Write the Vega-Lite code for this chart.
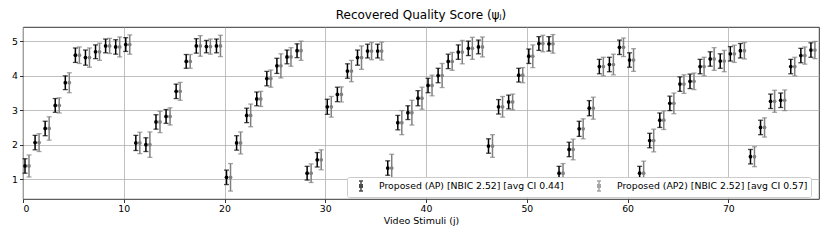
{
"$schema":"https://vega.github.io/schema/vega-lite/v6.json",
"width":796,"height":172,
"autosize":{"type":"none"},
"padding":{"left":23,"top":27,"right":11,"bottom":43},
"config":{"font":"DejaVu Sans","view":{"stroke":"#000","strokeWidth":0.8},
"axis":{"domain":false,"grid":true,"gridColor":"#b0b0b0","gridWidth":0.8,"tickColor":"#000","tickSize":3.5,"tickWidth":0.8,"labelFont":"DejaVu Sans","labelFontSize":9.3,"labelColor":"#000","labelPadding":2,"titleFont":"DejaVu Sans","titleFontSize":9.5,"titleFontWeight":"normal","titleColor":"#000"}},
"title":{"text":"Recovered Quality Score (ψⱼ)","fontSize":12,"fontWeight":"normal","font":"DejaVu Sans","color":"#000","offset":5},
"data":{"values":[
{"j":0,"score":1.38,"apLo":1.17,"apHi":1.59,"ap2Lo":1.06,"ap2Hi":1.70},
{"j":1,"score":2.06,"apLo":1.85,"apHi":2.27,"ap2Lo":1.80,"ap2Hi":2.32},
{"j":2,"score":2.47,"apLo":2.26,"apHi":2.68,"ap2Lo":2.13,"ap2Hi":2.81},
{"j":3,"score":3.14,"apLo":2.94,"apHi":3.34,"ap2Lo":2.92,"ap2Hi":3.36},
{"j":4,"score":3.80,"apLo":3.60,"apHi":4.00,"ap2Lo":3.51,"ap2Hi":4.09},
{"j":5,"score":4.60,"apLo":4.39,"apHi":4.81,"ap2Lo":4.36,"ap2Hi":4.84},
{"j":6,"score":4.53,"apLo":4.31,"apHi":4.75,"ap2Lo":4.25,"ap2Hi":4.81},
{"j":7,"score":4.70,"apLo":4.50,"apHi":4.90,"ap2Lo":4.45,"ap2Hi":4.95},
{"j":8,"score":4.87,"apLo":4.67,"apHi":5.07,"ap2Lo":4.65,"ap2Hi":5.09},
{"j":9,"score":4.84,"apLo":4.63,"apHi":5.05,"ap2Lo":4.55,"ap2Hi":5.13},
{"j":10,"score":4.91,"apLo":4.71,"apHi":5.11,"ap2Lo":4.63,"ap2Hi":5.19},
{"j":11,"score":2.05,"apLo":1.83,"apHi":2.27,"ap2Lo":1.74,"ap2Hi":2.36},
{"j":12,"score":2.00,"apLo":1.80,"apHi":2.20,"ap2Lo":1.63,"ap2Hi":2.37},
{"j":13,"score":2.66,"apLo":2.45,"apHi":2.87,"ap2Lo":2.35,"ap2Hi":2.97},
{"j":14,"score":2.82,"apLo":2.62,"apHi":3.02,"ap2Lo":2.57,"ap2Hi":3.07},
{"j":15,"score":3.55,"apLo":3.34,"apHi":3.76,"ap2Lo":3.29,"ap2Hi":3.81},
{"j":16,"score":4.42,"apLo":4.22,"apHi":4.62,"ap2Lo":4.22,"ap2Hi":4.62},
{"j":17,"score":4.87,"apLo":4.66,"apHi":5.08,"ap2Lo":4.57,"ap2Hi":5.17},
{"j":18,"score":4.85,"apLo":4.67,"apHi":5.03,"ap2Lo":4.63,"ap2Hi":5.07},
{"j":19,"score":4.87,"apLo":4.67,"apHi":5.07,"ap2Lo":4.56,"ap2Hi":5.18},
{"j":20,"score":1.05,"apLo":0.84,"apHi":1.26,"ap2Lo":0.65,"ap2Hi":1.45},
{"j":21,"score":2.05,"apLo":1.84,"apHi":2.26,"ap2Lo":1.73,"ap2Hi":2.37},
{"j":22,"score":2.85,"apLo":2.64,"apHi":3.06,"ap2Lo":2.52,"ap2Hi":3.18},
{"j":23,"score":3.33,"apLo":3.13,"apHi":3.53,"ap2Lo":3.11,"ap2Hi":3.55},
{"j":24,"score":3.92,"apLo":3.71,"apHi":4.13,"ap2Lo":3.67,"ap2Hi":4.17},
{"j":25,"score":4.29,"apLo":4.07,"apHi":4.51,"ap2Lo":3.94,"ap2Hi":4.64},
{"j":26,"score":4.55,"apLo":4.35,"apHi":4.75,"ap2Lo":4.28,"ap2Hi":4.82},
{"j":27,"score":4.73,"apLo":4.53,"apHi":4.93,"ap2Lo":4.45,"ap2Hi":5.01},
{"j":28,"score":1.17,"apLo":0.97,"apHi":1.37,"ap2Lo":0.90,"ap2Hi":1.44},
{"j":29,"score":1.56,"apLo":1.35,"apHi":1.77,"ap2Lo":1.27,"ap2Hi":1.85},
{"j":30,"score":3.10,"apLo":2.88,"apHi":3.32,"ap2Lo":2.80,"ap2Hi":3.40},
{"j":31,"score":3.46,"apLo":3.25,"apHi":3.67,"ap2Lo":3.24,"ap2Hi":3.68},
{"j":32,"score":4.14,"apLo":3.93,"apHi":4.35,"ap2Lo":3.83,"ap2Hi":4.45},
{"j":33,"score":4.53,"apLo":4.31,"apHi":4.75,"ap2Lo":4.19,"ap2Hi":4.87},
{"j":34,"score":4.72,"apLo":4.52,"apHi":4.92,"ap2Lo":4.47,"ap2Hi":4.97},
{"j":35,"score":4.72,"apLo":4.52,"apHi":4.92,"ap2Lo":4.46,"ap2Hi":4.98},
{"j":36,"score":1.32,"apLo":1.11,"apHi":1.53,"ap2Lo":0.92,"ap2Hi":1.72},
{"j":37,"score":2.64,"apLo":2.43,"apHi":2.85,"ap2Lo":2.29,"ap2Hi":2.99},
{"j":38,"score":2.93,"apLo":2.73,"apHi":3.13,"ap2Lo":2.57,"ap2Hi":3.29},
{"j":39,"score":3.35,"apLo":3.13,"apHi":3.57,"ap2Lo":3.03,"ap2Hi":3.67},
{"j":40,"score":3.72,"apLo":3.51,"apHi":3.93,"ap2Lo":3.42,"ap2Hi":4.02},
{"j":41,"score":4.01,"apLo":3.80,"apHi":4.22,"ap2Lo":3.66,"ap2Hi":4.36},
{"j":42,"score":4.42,"apLo":4.21,"apHi":4.63,"ap2Lo":4.16,"ap2Hi":4.68},
{"j":43,"score":4.69,"apLo":4.48,"apHi":4.90,"ap2Lo":4.35,"ap2Hi":5.03},
{"j":44,"score":4.80,"apLo":4.59,"apHi":5.01,"ap2Lo":4.48,"ap2Hi":5.12},
{"j":45,"score":4.84,"apLo":4.64,"apHi":5.04,"ap2Lo":4.55,"ap2Hi":5.13},
{"j":46,"score":1.96,"apLo":1.75,"apHi":2.17,"ap2Lo":1.63,"ap2Hi":2.29},
{"j":47,"score":3.10,"apLo":2.89,"apHi":3.31,"ap2Lo":2.80,"ap2Hi":3.40},
{"j":48,"score":3.24,"apLo":3.04,"apHi":3.44,"ap2Lo":3.01,"ap2Hi":3.47},
{"j":49,"score":4.02,"apLo":3.82,"apHi":4.22,"ap2Lo":3.80,"ap2Hi":4.24},
{"j":50,"score":4.57,"apLo":4.36,"apHi":4.78,"ap2Lo":4.24,"ap2Hi":4.90},
{"j":51,"score":4.94,"apLo":4.74,"apHi":5.14,"ap2Lo":4.70,"ap2Hi":5.18},
{"j":52,"score":4.93,"apLo":4.72,"apHi":5.14,"ap2Lo":4.66,"ap2Hi":5.20},
{"j":53,"score":1.17,"apLo":0.97,"apHi":1.37,"ap2Lo":0.89,"ap2Hi":1.45},
{"j":54,"score":1.86,"apLo":1.65,"apHi":2.07,"ap2Lo":1.56,"ap2Hi":2.16},
{"j":55,"score":2.46,"apLo":2.24,"apHi":2.68,"ap2Lo":2.17,"ap2Hi":2.75},
{"j":56,"score":3.06,"apLo":2.84,"apHi":3.28,"ap2Lo":2.74,"ap2Hi":3.38},
{"j":57,"score":4.27,"apLo":4.06,"apHi":4.48,"ap2Lo":4.00,"ap2Hi":4.54},
{"j":58,"score":4.33,"apLo":4.12,"apHi":4.54,"ap2Lo":4.03,"ap2Hi":4.63},
{"j":59,"score":4.83,"apLo":4.62,"apHi":5.04,"ap2Lo":4.56,"ap2Hi":5.10},
{"j":60,"score":4.46,"apLo":4.25,"apHi":4.67,"ap2Lo":4.13,"ap2Hi":4.79},
{"j":61,"score":1.17,"apLo":0.97,"apHi":1.37,"ap2Lo":0.82,"ap2Hi":1.52},
{"j":62,"score":2.12,"apLo":1.91,"apHi":2.33,"ap2Lo":1.79,"ap2Hi":2.45},
{"j":63,"score":2.71,"apLo":2.50,"apHi":2.92,"ap2Lo":2.44,"ap2Hi":2.98},
{"j":64,"score":3.20,"apLo":2.99,"apHi":3.41,"ap2Lo":2.90,"ap2Hi":3.50},
{"j":65,"score":3.76,"apLo":3.55,"apHi":3.97,"ap2Lo":3.49,"ap2Hi":4.03},
{"j":66,"score":3.84,"apLo":3.63,"apHi":4.05,"ap2Lo":3.60,"ap2Hi":4.08},
{"j":67,"score":4.27,"apLo":4.06,"apHi":4.48,"ap2Lo":4.00,"ap2Hi":4.54},
{"j":68,"score":4.49,"apLo":4.28,"apHi":4.70,"ap2Lo":4.16,"ap2Hi":4.82},
{"j":69,"score":4.43,"apLo":4.22,"apHi":4.64,"ap2Lo":4.12,"ap2Hi":4.74},
{"j":70,"score":4.64,"apLo":4.43,"apHi":4.85,"ap2Lo":4.39,"ap2Hi":4.89},
{"j":71,"score":4.73,"apLo":4.52,"apHi":4.94,"ap2Lo":4.49,"ap2Hi":4.97},
{"j":72,"score":1.65,"apLo":1.44,"apHi":1.86,"ap2Lo":1.36,"ap2Hi":1.94},
{"j":73,"score":2.50,"apLo":2.29,"apHi":2.71,"ap2Lo":2.22,"ap2Hi":2.78},
{"j":74,"score":3.26,"apLo":3.05,"apHi":3.47,"ap2Lo":2.94,"ap2Hi":3.58},
{"j":75,"score":3.29,"apLo":3.08,"apHi":3.50,"ap2Lo":2.99,"ap2Hi":3.59},
{"j":76,"score":4.27,"apLo":4.06,"apHi":4.48,"ap2Lo":4.00,"ap2Hi":4.54},
{"j":77,"score":4.59,"apLo":4.38,"apHi":4.80,"ap2Lo":4.34,"ap2Hi":4.84},
{"j":78,"score":4.75,"apLo":4.54,"apHi":4.96,"ap2Lo":4.50,"ap2Hi":5.00}
]},
"encoding":{
"x":{"field":"j","type":"quantitative","scale":{"domain":[0,79],"nice":false,"zero":false},"axis":{"values":[0,10,20,30,40,50,60,70],"title":"Video Stimuli (j)","titlePadding":2}}
},
"layer":[
{"mark":{"type":"rule","xOffset":2,"strokeWidth":1.5},
 "encoding":{"y":{"field":"apLo","type":"quantitative","scale":{"domain":[0.42,5.42],"nice":false,"zero":false},"axis":{"values":[1,2,3,4,5],"title":null}},"y2":{"field":"apHi"},
 "color":{"datum":"AP","type":"nominal","scale":{"domain":["AP","AP2"],"range":["#000000","#808080"]},
 "legend":{"orient":"none","legendX":324,"legendY":150,"direction":"horizontal","title":null,"symbolType":"M-0.4,-1H0.4M0,-1V1M-0.4,1H0.4M-0.25,-0.25H0.25V0.25H-0.25Z","symbolSize":100,"symbolStrokeWidth":1.5,"symbolOffset":5,"labelFontSize":9.3,"labelFont":"DejaVu Sans","labelColor":"#000","labelLimit":400,"labelExpr":"datum.value == 'AP' ? 'Proposed (AP) [NBIC 2.52] [avg CI 0.44]' : 'Proposed (AP2) [NBIC 2.52] [avg CI 0.57]'","fillColor":"#ffffff","strokeColor":"#cccccc","cornerRadius":2,"padding":3,"columnPadding":24,"labelOffset":12}}}},
{"mark":{"type":"tick","orient":"horizontal","xOffset":2,"size":5,"thickness":1.3},
 "encoding":{"y":{"field":"apLo","type":"quantitative"},"color":{"datum":"AP","type":"nominal"}}},
{"mark":{"type":"tick","orient":"horizontal","xOffset":2,"size":5,"thickness":1.3},
 "encoding":{"y":{"field":"apHi","type":"quantitative"},"color":{"datum":"AP","type":"nominal"}}},
{"mark":{"type":"point","filled":true,"opacity":1,"xOffset":2,"size":14},
 "encoding":{"y":{"field":"score","type":"quantitative"},"color":{"datum":"AP","type":"nominal"}}},
{"mark":{"type":"rule","xOffset":6,"strokeWidth":1.5},
 "encoding":{"y":{"field":"ap2Lo","type":"quantitative"},"y2":{"field":"ap2Hi"},"color":{"datum":"AP2","type":"nominal"}}},
{"mark":{"type":"tick","orient":"horizontal","xOffset":6,"size":5,"thickness":1.3},
 "encoding":{"y":{"field":"ap2Lo","type":"quantitative"},"color":{"datum":"AP2","type":"nominal"}}},
{"mark":{"type":"tick","orient":"horizontal","xOffset":6,"size":5,"thickness":1.3},
 "encoding":{"y":{"field":"ap2Hi","type":"quantitative"},"color":{"datum":"AP2","type":"nominal"}}},
{"mark":{"type":"point","filled":true,"opacity":1,"xOffset":6,"size":14},
 "encoding":{"y":{"field":"score","type":"quantitative"},"color":{"datum":"AP2","type":"nominal"}}}
]
}
